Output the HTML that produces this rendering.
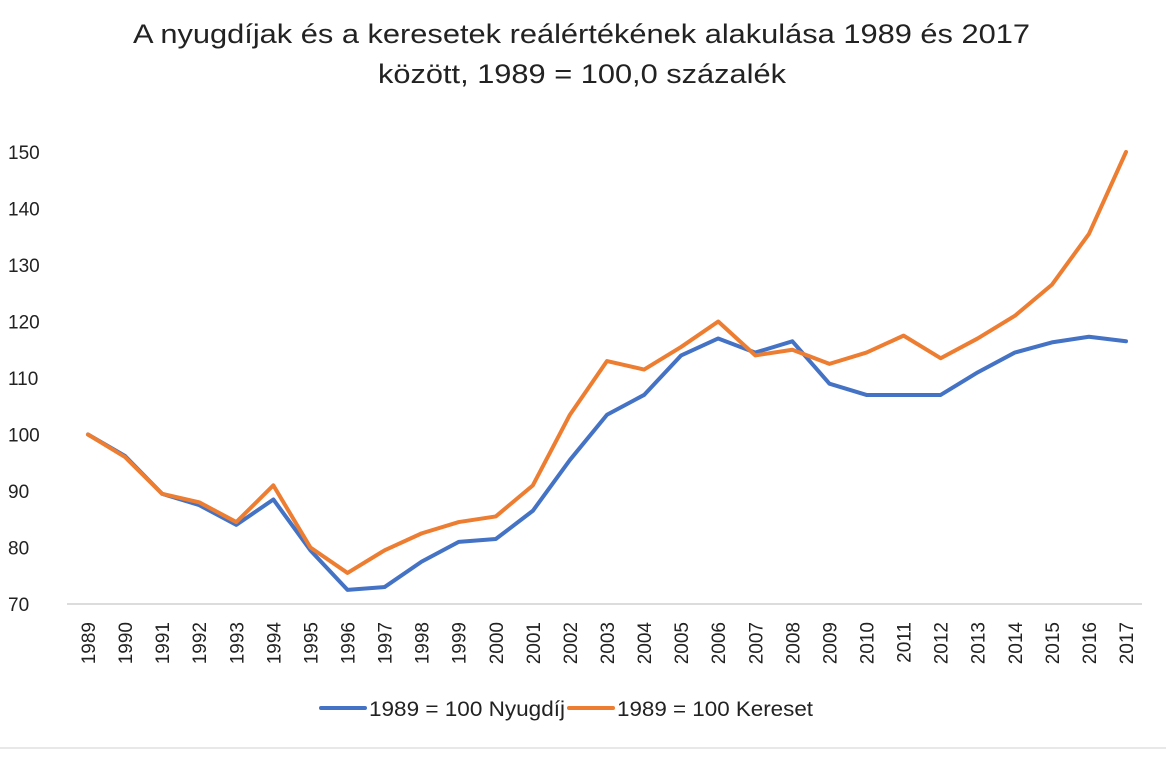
<!DOCTYPE html>
<html><head><meta charset="utf-8"><style>
body{margin:0;background:#fff;}
svg text{font-family:"Liberation Sans",sans-serif;fill:#222;}
</style></head><body>
<svg width="1166" height="752" xmlns="http://www.w3.org/2000/svg">
<text x="133" y="43" font-size="27" textLength="897" lengthAdjust="spacingAndGlyphs">A nyugdíjak és a keresetek reálértékének alakulása 1989 és 2017</text>
<text x="378" y="83" font-size="27" textLength="408" lengthAdjust="spacingAndGlyphs">között, 1989 = 100,0 százalék</text>
<g id="yaxis"></g>
<g id="xaxis"></g>
<g id="series"></g>
<line x1="0" y1="748" x2="1166" y2="748" stroke="#d0d0d0" stroke-width="1"/>
<g>
<line x1="321" y1="708" x2="365" y2="708" stroke="#4472c4" stroke-width="4" stroke-linecap="round"/>
<text x="369" y="716" font-size="21" textLength="196" lengthAdjust="spacingAndGlyphs">1989 = 100 Nyugdíj</text>
<line x1="569" y1="708" x2="613" y2="708" stroke="#ed7d31" stroke-width="4" stroke-linecap="round"/>
<text x="617" y="716" font-size="21" textLength="196" lengthAdjust="spacingAndGlyphs">1989 = 100 Kereset</text>
</g>
</svg>
<script>
const years=[1989,1990,1991,1992,1993,1994,1995,1996,1997,1998,1999,2000,2001,2002,2003,2004,2005,2006,2007,2008,2009,2010,2011,2012,2013,2014,2015,2016,2017];
const nyugdij=[100,96.2,89.5,87.5,84,88.5,79.5,72.5,73,77.5,81,81.5,86.5,95.5,103.5,107,114,117,114.5,116.5,109,107,107,107,111,114.5,116.3,117.3,116.5];
const kereset=[100,96,89.5,88,84.5,91,80,75.5,79.5,82.5,84.5,85.5,91,103.5,113,111.5,115.5,120,114,115,112.5,114.5,117.5,113.5,117,121,126.5,135.5,150];
const yTicks=[70,80,90,100,110,120,130,140,150];
const NS="http://www.w3.org/2000/svg";
const x0=88,x1=1126,yTop=152,yBot=604,vMin=70,vMax=150;
function xs(i){return x0+(x1-x0)*i/(years.length-1);}
function ys(v){return yBot-(v-vMin)/(vMax-vMin)*(yBot-yTop);}
function mk(tag,attrs,parent){const e=document.createElementNS(NS,tag);for(const k in attrs)e.setAttribute(k,attrs[k]);parent.appendChild(e);return e;}
const ya=document.getElementById('yaxis'),xa=document.getElementById('xaxis'),sg=document.getElementById('series');
yTicks.forEach(t=>{const tx=mk('text',{x:8,y:ys(t)+7,'font-size':19},ya);tx.textContent=t;

});
const ax=mk('line',{x1:67,y1:yBot,x2:1142,y2:yBot,stroke:'#d0d0d0','stroke-width':1.5},xa);


years.forEach((y,i)=>{const cx=xs(i)+7;const tx=mk('text',{x:cx,y:622,'font-size':19,'text-anchor':'end',transform:`rotate(-90 ${cx} 622)`},xa);tx.textContent=y;

});
function line(data,color,name){const p=mk('polyline',{points:data.map((v,i)=>xs(i)+','+ys(v)).join(' '),fill:'none',stroke:color,'stroke-width':4,'stroke-linejoin':'round','stroke-linecap':'round'},sg);

}
line(nyugdij,'#4472c4','line-nyugdij');
line(kereset,'#ed7d31','line-kereset');
</script>
</body></html>
